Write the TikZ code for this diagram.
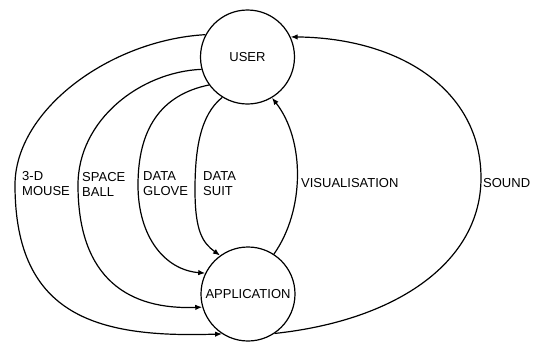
\documentclass[tikz,border=0pt]{standalone}
\usepackage{fontspec}
\setmainfont{Liberation Sans}
\usetikzlibrary{arrows.meta}
\begin{document}
\begin{tikzpicture}[x=1pt,y=-1pt,
  flow/.style={line width=1.2pt,-{Latex[length=7pt,width=5.5pt]}},
  place/.style={circle,draw,line width=1.2pt,minimum size=94pt,inner sep=0pt,
    font=\fontsize{13}{15}\selectfont},
  lbl/.style={anchor=west,inner sep=0pt,align=left,
    font=\fontsize{13}{15}\selectfont}]
\useasboundingbox (0,0) rectangle (539,341);

% the two places
\node[place] (user) at (247.5,57) {USER};
\node[place] (app) at (248,294) {APPLICATION};

% input devices, user -> application
\draw[flow] (user.152) .. controls (110,40) and (15,110) .. (15,185)
  .. controls (15,318) and (100,338) .. (app.237);
\draw[flow] (user.195) .. controls (140,72) and (78,120) .. (78,185)
  .. controls (78,280) and (130,310) .. (app.196);
\draw[flow] (user.216) .. controls (160,95) and (138,130) .. (138,185)
  .. controls (138,237) and (165,270) .. (app.154);
\draw[flow] (user.238) .. controls (200,115) and (195,150) .. (195,190)
  .. controls (195,232) and (203,243) .. (app.126);

% output channels, application -> user
\draw[flow] (app.57) .. controls (305,210) and (305,140) .. (user.301);
\draw[flow] (app.304) .. controls (400,320) and (481,260) .. (481,178)
  .. controls (481,90) and (400,38) .. (user.25);

% channel labels
\node[lbl] (mouse) at (22,184) {3-D\\MOUSE};
\node[lbl] (ball) at (82,184) {SPACE\\BALL};
\node[lbl] (glove) at (143,184) {DATA\\GLOVE};
\node[lbl] (suit) at (203,184) {DATA\\SUIT};
\node[lbl] (vis) at (301,183) {VISUALISATION};
\node[lbl] (sound) at (483,183) {SOUND};
\end{tikzpicture}
\end{document}
